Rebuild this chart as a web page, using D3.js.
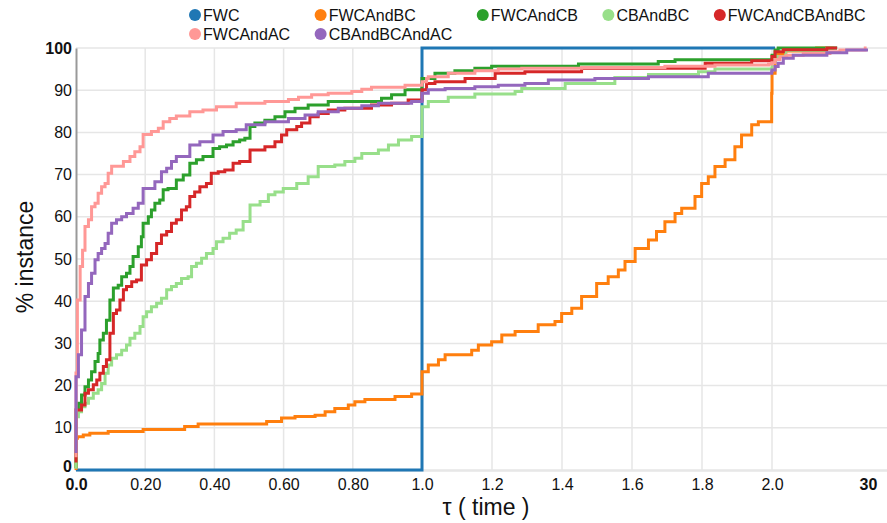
<!DOCTYPE html>
<html>
<head>
<meta charset="utf-8">
<script src="https://cdn.jsdelivr.net/npm/d3@7"></script>
<style>
  body { margin: 0; background: #fff; }
  svg { display: block; font-family: "Liberation Sans", Arial, sans-serif; }
</style>
</head>
<body>
<svg id="chart" width="887" height="523"></svg>
<script>
// series names, in drawing order (legend order)
const seriesNames = ['FWC', 'FWCAndBC', 'FWCAndCB', 'CBAndBC', 'FWCAndCBAndBC', 'FWCAndAC', 'CBAndBCAndAC'];
const seriesColors = ['#1f77b4', '#ff7f0e', '#2ca02c', '#98df8a', '#d62728', '#ff9896', '#9467bd'];

// [tau, % instance] step points
const fwc = [[0, 0], [1, 0], [1, 100], [2.9, 100]];

const fwcAndBC = [[0, 0], [0, 7.5], [0.004, 7.9], [0.021, 8.3], [0.040, 8.7], [0.093, 9.1], [0.194, 9.6],
  [0.314, 10.3], [0.353, 10.9], [0.551, 11.5], [0.594, 12.3], [0.633, 12.7], [0.691, 13.0], [0.720, 13.8],
  [0.748, 14.6], [0.787, 15.4], [0.806, 16.2], [0.835, 16.7], [0.922, 17.4], [0.970, 18.0], [1.0, 23.3],
  [1.018, 24.9], [1.047, 26.1], [1.066, 27.3], [1.142, 28.4], [1.161, 29.6], [1.199, 30.4], [1.228, 32.0],
  [1.266, 32.8], [1.332, 34.4], [1.380, 35.2], [1.399, 37.1], [1.428, 38.3], [1.456, 41.1], [1.499, 44.2],
  [1.532, 45.8], [1.561, 47.4], [1.580, 49.4], [1.609, 52.5], [1.647, 54.5], [1.670, 56.5], [1.694, 58.8],
  [1.723, 60.8], [1.742, 62.0], [1.780, 64.8], [1.799, 67.9], [1.818, 69.5], [1.837, 71.9], [1.866, 73.5],
  [1.894, 76.6], [1.913, 79.4], [1.942, 81.8], [1.961, 82.5], [1.999, 89.3], [2.01, 94.0], [2.9, 97.5],
  [3.8, 98.5], [6, 99.3], [15, 100], [20, 100]];

const fwcAndCB = [[0, 0.5], [0, 14.2], [0.007, 15.8], [0.016, 17.8], [0.026, 19.7], [0.036, 21.3], [0.045, 23.3],
  [0.055, 25.7], [0.064, 27.6], [0.069, 30.8], [0.079, 32.4], [0.088, 35.5], [0.098, 40.3], [0.108, 43.1],
  [0.122, 43.8], [0.132, 45.8], [0.146, 46.6], [0.156, 48.2], [0.165, 50.6], [0.180, 52.9], [0.189, 55.3],
  [0.194, 58.5], [0.209, 60.0], [0.218, 61.6], [0.228, 63.2], [0.242, 64.0], [0.252, 66.4], [0.266, 66.7],
  [0.290, 68.7], [0.310, 69.9], [0.329, 72.7], [0.348, 73.5], [0.367, 74.3], [0.396, 76.2], [0.415, 76.6],
  [0.435, 77.0], [0.454, 77.8], [0.473, 78.2], [0.488, 78.6], [0.503, 81.4], [0.517, 82.2], [0.546, 82.9],
  [0.575, 83.7], [0.604, 84.9], [0.633, 85.7], [0.671, 86.5], [0.729, 87.3], [0.883, 88.1], [0.912, 88.9],
  [0.951, 90.1], [1.0, 92.8], [1.037, 94.0], [1.094, 94.6], [1.151, 95.2], [1.199, 95.7], [1.447, 96.2],
  [1.675, 96.8], [1.723, 97.2], [2.0, 98.3], [2.9, 99.5], [3.8, 100], [21, 100]];

const cbAndBC = [[0, 0.3], [0, 12.6], [0.007, 13.8], [0.016, 15.0], [0.026, 15.8], [0.036, 17.0], [0.050, 18.2],
  [0.064, 19.0], [0.074, 20.5], [0.084, 22.9], [0.093, 24.9], [0.103, 26.5], [0.117, 27.3], [0.132, 28.4],
  [0.146, 29.6], [0.156, 31.2], [0.170, 32.4], [0.185, 34.0], [0.194, 36.3], [0.204, 37.5], [0.218, 38.7],
  [0.233, 39.5], [0.247, 40.7], [0.262, 42.7], [0.276, 43.5], [0.290, 44.2], [0.305, 45.4], [0.324, 45.8],
  [0.334, 48.2], [0.348, 49.0], [0.363, 50.2], [0.377, 51.3], [0.396, 52.5], [0.406, 54.1], [0.425, 54.9],
  [0.444, 56.1], [0.463, 56.9], [0.483, 58.9], [0.503, 62.8], [0.532, 63.6], [0.556, 65.2], [0.575, 65.9],
  [0.599, 66.7], [0.638, 67.9], [0.671, 69.5], [0.700, 71.9], [0.748, 72.3], [0.777, 73.1], [0.806, 73.9],
  [0.826, 75.0], [0.874, 75.8], [0.903, 77.0], [0.932, 78.2], [0.970, 79.0], [1.0, 86.1], [1.018, 87.3],
  [1.075, 88.3], [1.151, 89.1], [1.266, 89.7], [1.285, 90.4], [1.409, 91.6], [1.551, 93.0], [1.647, 93.7],
  [1.790, 94.4], [1.837, 95.0], [2.0, 96.7], [2.9, 98.0], [6, 99.4], [18, 100], [20, 100]];

const fwcAndCBAndBC = [[0, 1.8], [0, 14.2], [0.016, 15.4], [0.026, 18.2], [0.036, 19.0], [0.050, 20.2],
  [0.060, 21.3], [0.069, 22.9], [0.079, 24.5], [0.088, 26.1], [0.098, 32.4], [0.108, 37.1], [0.117, 37.9],
  [0.127, 40.3], [0.137, 42.7], [0.146, 43.5], [0.161, 44.6], [0.175, 45.0], [0.189, 48.6], [0.204, 49.8],
  [0.218, 51.3], [0.233, 53.7], [0.247, 55.7], [0.262, 56.5], [0.276, 58.5], [0.290, 59.3], [0.305, 61.6],
  [0.319, 62.4], [0.329, 64.8], [0.343, 65.9], [0.358, 67.1], [0.377, 67.9], [0.391, 70.3], [0.411, 70.7],
  [0.430, 71.1], [0.454, 72.7], [0.473, 73.1], [0.503, 75.8], [0.546, 76.6], [0.575, 77.8], [0.594, 79.4],
  [0.609, 80.6], [0.638, 81.4], [0.652, 82.2], [0.676, 83.7], [0.700, 84.5], [0.729, 85.3], [0.777, 85.7],
  [0.854, 86.5], [0.912, 86.9], [0.960, 87.7], [1.0, 90.1], [1.013, 91.6], [1.037, 92.0], [1.123, 92.8],
  [1.209, 94.0], [1.294, 94.4], [1.456, 95.2], [1.809, 96.4], [1.942, 97.0], [2.0, 98.0], [2.9, 99.1],
  [5.3, 99.6], [18, 100], [21, 100]];

const fwcAndAC = [[0, 3], [0, 23], [0.004, 40.3], [0.012, 48.2], [0.019, 52.1], [0.026, 57.7], [0.036, 59.3],
  [0.045, 62.4], [0.055, 63.2], [0.064, 65.6], [0.074, 67.1], [0.084, 67.9], [0.093, 70.3], [0.103, 72.0],
  [0.137, 73.1], [0.156, 74.3], [0.170, 75.4], [0.185, 76.6], [0.194, 79.5], [0.218, 80.2], [0.238, 81.0],
  [0.252, 82.5], [0.271, 83.3], [0.290, 83.9], [0.329, 84.9], [0.367, 85.3], [0.406, 86.1], [0.463, 86.9],
  [0.546, 87.3], [0.614, 87.8], [0.643, 88.3], [0.681, 88.9], [0.729, 89.3], [0.797, 89.7], [0.826, 90.2],
  [0.854, 90.7], [0.951, 91.2], [1.0, 92.0], [1.013, 92.8], [1.018, 93.2], [1.075, 94.0], [1.151, 94.6],
  [1.218, 95.0], [1.285, 95.2], [1.456, 95.4], [1.694, 95.7], [1.837, 96.0], [1.99, 96.2], [2.0, 96.5],
  [2.9, 97.3], [4.3, 97.95], [6.3, 98.3], [11.1, 98.7], [18.9, 99.1], [21.8, 99.5], [29.2, 100], [29.6, 100]];

const cbAndBCAndAC = [[0, 4], [0, 22.1], [0.007, 27.3], [0.016, 33.2], [0.026, 41.1], [0.036, 44.2],
  [0.045, 46.6], [0.055, 49.8], [0.064, 51.3], [0.074, 52.5], [0.084, 53.7], [0.093, 56.1], [0.103, 58.5],
  [0.117, 59.3], [0.132, 60.0], [0.146, 60.8], [0.165, 62.0], [0.180, 63.2], [0.194, 66.7], [0.228, 68.3],
  [0.247, 70.7], [0.262, 71.5], [0.276, 73.1], [0.290, 74.3], [0.329, 77.0], [0.358, 77.8], [0.396, 79.4],
  [0.425, 80.2], [0.463, 80.6], [0.492, 81.8], [0.546, 82.5], [0.614, 83.3], [0.662, 84.1], [0.700, 84.9],
  [0.758, 85.7], [0.826, 86.3], [0.874, 86.9], [0.970, 87.3], [1.0, 89.3], [1.018, 90.1], [1.066, 90.4],
  [1.151, 90.8], [1.218, 91.2], [1.294, 91.6], [1.361, 92.4], [1.494, 92.8], [1.647, 93.2], [1.818, 94.0],
  [1.999, 94.4], [2.0, 94.8], [2.9, 95.6], [3.8, 96.4], [5.3, 97.6], [8.2, 98.3], [18, 98.9], [23.8, 99.5],
  [30, 99.5]];

const seriesValues = [fwc, fwcAndBC, fwcAndCB, cbAndBC, fwcAndCBAndBC, fwcAndAC, cbAndBCAndAC];

// axis ticks
const xTickValues = [0, 0.2, 0.4, 0.6, 0.8, 1.0, 1.2, 1.4, 1.6, 1.8, 2.0, 30];
const xTickLabels = ['0.0', '0.20', '0.40', '0.60', '0.80', '1.0', '1.2', '1.4', '1.6', '1.8', '2.0', '30'];
const yTickValues = [0, 10, 20, 30, 40, 50, 60, 70, 80, 90, 100];

const svg = d3.select('#chart');
const plotLeft = 76, plotTop = 48, plotBottom = 470, plotRight = 887;

// piecewise x: [0,1] and [1,2] get equal room, the tail up to 30 is squeezed
const x = d3.scaleLinear().domain([0, 1, 2, 30]).range([plotLeft, 422, 772, 868]);
const y = d3.scaleLinear().domain([0, 100]).range([plotBottom, plotTop]);

// grid
const grid = svg.append('g');
grid.selectAll('line.h').data(yTickValues).join('line')
  .attr('class', 'h')
  .attr('x1', plotLeft).attr('x2', plotRight)
  .attr('y1', d => y(d)).attr('y2', d => y(d))
  .attr('stroke', '#e6e6e6').attr('stroke-width', 1.5);
grid.selectAll('line.v').data(xTickValues.filter(d => d > 0 && d <= 2)).join('line')
  .attr('class', 'v')
  .attr('x1', d => x(d)).attr('x2', d => x(d))
  .attr('y1', plotTop).attr('y2', plotBottom)
  .attr('stroke', '#e6e6e6').attr('stroke-width', 1.5);

// x axis
const xAxis = svg.append('g')
  .attr('transform', `translate(0,${plotBottom + 1})`)
  .call(d3.axisBottom(x).tickValues(xTickValues).tickFormat((d, i) => xTickLabels[i]).tickSize(0).tickPadding(8));
xAxis.select('.domain').attr('stroke', '#e6e6e6').attr('stroke-width', 1.5).attr('d', `M${plotLeft},0H${plotRight}`);
xAxis.selectAll('text')
  .attr('font-size', 16).attr('fill', '#111')
  .attr('font-weight', (d, i) => (i === 0 || i === xTickValues.length - 1) ? 'bold' : 'normal');

// y axis
const yAxis = svg.append('g')
  .attr('transform', `translate(${plotLeft},0)`)
  .call(d3.axisLeft(y).tickValues(yTickValues).tickSize(0).tickPadding(4));
yAxis.select('.domain').attr('stroke', '#999').attr('stroke-width', 2);
yAxis.selectAll('text')
  .attr('font-size', 16).attr('fill', '#111')
  .attr('font-weight', d => (d === 0 || d === 100) ? 'bold' : 'normal');
// the bottom "0" sits just above the "0.0" of the x axis
yAxis.selectAll('text').filter(d => d === 0).attr('dy', '0.12em');

// axis titles
svg.append('text')
  .attr('transform', 'translate(33,257) rotate(-90)')
  .attr('text-anchor', 'middle')
  .attr('font-size', 23).attr('fill', '#111')
  .text('% instance');
svg.append('text')
  .attr('x', 486).attr('y', 515)
  .attr('text-anchor', 'middle')
  .attr('font-size', 23).attr('fill', '#111')
  .text('τ ( time )');

// lines
const line = d3.line()
  .x(d => x(d[0]))
  .y(d => y(d[1]))
  .curve(d3.curveStepAfter);

svg.append('g').selectAll('path')
  .data(seriesValues)
  .join('path')
  .attr('d', line)
  .attr('fill', 'none')
  .attr('stroke', (d, i) => seriesColors[i])
  .attr('stroke-width', 3);

// legend: 5 items per row, column width fits widest label in that column
const perRow = 5;
const legend = svg.append('g').attr('font-size', 16);
const items = legend.selectAll('g').data(seriesNames).join('g');
items.append('circle').attr('r', 6).attr('fill', (d, i) => seriesColors[i]);
items.append('text').attr('x', 8).attr('dy', '0.35em').attr('fill', '#111').text(d => d);

const widths = [];
items.select('text').each(function (d, i) {
  const c = i % perRow;
  widths[c] = Math.max(widths[c] || 0, this.getComputedTextLength());
});
const colX = [195];
for (let c = 1; c < perRow; c++) colX[c] = colX[c - 1] + widths[c - 1] + 38.5;
items.attr('transform', (d, i) => `translate(${colX[i % perRow]},${i < perRow ? 15 : 34})`);
</script>
</body>
</html>
